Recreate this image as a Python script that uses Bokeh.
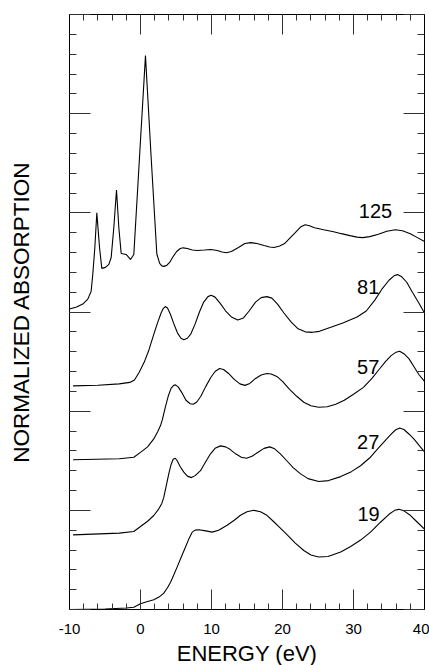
from bokeh.plotting import figure
from bokeh.models import FixedTicker, LinearAxis, Range1d, CustomJSTickFormatter, CustomLabelingPolicy
from bokeh.core.properties import value
from bokeh.embed import file_html
from bokeh.resources import INLINE

# ---- data (energy in eV, normalized absorption with vertical offsets) ----
e125 = [-10, -9, -8.13, -7.42, -6.95, -6.72, -6.43, -6.15, -5.77, -5.45, -4.93, -4.46, -4.13, -3.76, -3.38,
        -3.05, -2.72, -2.02, -1.41, -0.94, -0.14, 0.7, 1.5, 2.3, 2.7, 3.0, 3.3, 3.7, 4.1, 4.6, 5.1, 5.6,
        6.0, 6.6, 7.3, 8.0, 9.0, 9.9, 10.8, 11.5, 12.1, 12.8, 13.8, 14.7, 15.5, 16.4, 17.4, 18.2, 18.8,
        19.6, 20.3, 21.1, 21.8, 22.6, 23.2, 23.8, 24.5, 25.8, 27.2, 28.3, 29.5, 30.5, 31.3, 32.3, 33.5,
        34.7, 35.9, 36.9, 38.0, 39.0, 40]
y125 = [3.03, 3.05, 3.08, 3.13, 3.21, 3.38, 3.65, 4.0, 3.65, 3.44, 3.45, 3.48, 3.55, 3.85, 4.23,
        3.85, 3.59, 3.58, 3.53, 3.58, 4.56, 5.585, 4.56, 3.585, 3.49, 3.465, 3.46, 3.47, 3.50, 3.56, 3.61, 3.64,
        3.647, 3.64, 3.625, 3.62, 3.625, 3.63, 3.62, 3.605, 3.598, 3.61, 3.65, 3.69, 3.70, 3.69, 3.67, 3.655, 3.65,
        3.665, 3.69, 3.75, 3.80, 3.86, 3.88, 3.87, 3.85, 3.83, 3.81, 3.79, 3.77, 3.755, 3.75, 3.76, 3.785,
        3.815, 3.83, 3.82, 3.79, 3.75, 3.71]

e81 = [-9.5, -6, -3, -1.5, -0.85, -0.2, 0.5, 1.2, 1.8, 2.4, 2.9, 3.2, 3.5, 3.8, 4.2, 4.7, 5.2, 5.7,
       6.1, 6.6, 7.1, 7.7, 8.3, 8.9, 9.5, 9.95, 10.5, 11.2, 12.0, 12.8, 13.7, 14.5, 15.3, 16.2, 17.0,
       17.8, 18.5, 19.3, 20.2, 21.2, 22.2, 23.2, 24.2, 25.2, 26.8, 28.5, 30.5, 31.8, 33.0, 34.0, 35.0,
       35.7, 36.2, 36.8, 37.5, 38.3, 39.2, 40]
y81 = [2.255, 2.262, 2.275, 2.29, 2.315, 2.39, 2.49, 2.62, 2.76, 2.89, 2.99, 3.035, 3.055, 3.04, 2.98,
       2.88, 2.79, 2.735, 2.72, 2.735, 2.78, 2.88, 3.00, 3.10, 3.155, 3.168, 3.15, 3.09, 3.01, 2.95,
       2.92, 2.94, 3.01, 3.10, 3.145, 3.155, 3.14, 3.08, 2.99, 2.90, 2.83, 2.80, 2.795, 2.805, 2.846,
       2.89, 2.95, 3.01, 3.12, 3.23, 3.32, 3.365, 3.377, 3.355, 3.30, 3.20, 3.09, 2.99]

e57 = [-9.5, -3, -0.94, 0, 1.0, 1.87, 2.4, 2.82, 3.1, 3.5, 3.9, 4.3, 4.7, 4.93, 5.3, 5.8, 6.4, 7.0,
       7.42, 7.9, 8.5, 9.2, 9.9, 10.5, 11.13, 11.7, 12.4, 13.2, 14.0, 14.7, 15.4, 16.2, 17.0, 17.8,
       18.4, 19.2, 20.0, 21.0, 22.0, 23.0, 24.0, 25.1, 26.3, 27.5, 28.7, 30.0, 31.4, 32.6, 33.6, 34.5,
       35.3, 36.0, 36.5, 37.1, 37.8, 38.5, 39.2, 40]
y57 = [1.51, 1.52, 1.535, 1.585, 1.64, 1.72, 1.79, 1.855, 1.92, 2.04, 2.15, 2.23, 2.262, 2.265, 2.245,
       2.19, 2.11, 2.075, 2.07, 2.09, 2.15, 2.25, 2.34, 2.40, 2.43, 2.42, 2.38, 2.32, 2.275, 2.26, 2.28,
       2.33, 2.365, 2.38, 2.375, 2.35, 2.30, 2.22, 2.15, 2.09, 2.055, 2.04, 2.045, 2.07, 2.11, 2.17,
       2.24, 2.33, 2.42, 2.50, 2.56, 2.595, 2.605, 2.58, 2.53, 2.45, 2.37, 2.30]

e27 = [-9.5, -3, -0.94, 0, 1.0, 1.87, 2.58, 3.0, 3.28, 3.6, 3.99, 4.3, 4.6, 4.9, 5.17, 5.6, 6.1, 6.6,
       7.18, 7.7, 8.45, 9.1, 9.86, 10.5, 11.27, 12.0, 12.6, 13.4, 14.2, 14.93, 15.7, 16.66, 17.4, 18.2,
       18.9, 19.7, 20.6, 21.5, 22.5, 23.6, 25.1, 26.5, 28.2, 29.7, 31.0, 32.3, 33.4, 34.3, 35.2, 35.9,
       36.5, 37.1, 37.8, 38.5, 39.3, 40]
y27 = [0.753, 0.77, 0.786, 0.837, 0.89, 0.948, 1.015, 1.07, 1.13, 1.24, 1.37, 1.46, 1.515, 1.525, 1.50,
       1.44, 1.385, 1.345, 1.33, 1.35, 1.40, 1.48, 1.57, 1.625, 1.65, 1.64, 1.615, 1.57, 1.535, 1.525,
       1.545, 1.59, 1.625, 1.64, 1.62, 1.57, 1.50, 1.43, 1.37, 1.32, 1.29, 1.30, 1.34, 1.39, 1.45, 1.53,
       1.62, 1.69, 1.76, 1.81, 1.83, 1.815, 1.77, 1.72, 1.65, 1.59]

e19 = [-10, -5, -2, -0.94, 0, 1.0, 1.87, 2.6, 3.28, 3.8, 4.23, 4.7, 5.17, 5.8, 6.34, 6.8, 7.28, 7.7,
       8.21, 9.0, 10.1, 11.0, 12.2, 13.2, 14.08, 15.0, 15.96, 16.9, 17.8, 18.7, 19.7, 20.7, 21.8, 23.0,
       24.0, 25.1, 26.4, 28.2, 29.6, 31.0, 32.4, 33.8, 35.0, 35.8, 36.4, 37.1, 38.0, 39.0, 40]
y19 = [0.0, 0.005, 0.015, 0.023, 0.057, 0.08, 0.098, 0.125, 0.165, 0.22, 0.275, 0.35, 0.43, 0.54, 0.63,
       0.71, 0.78, 0.80, 0.805, 0.795, 0.78, 0.80, 0.85, 0.90, 0.95, 0.985, 1.0, 0.985, 0.95, 0.89, 0.82,
       0.75, 0.67, 0.595, 0.55, 0.53, 0.535, 0.58, 0.635, 0.70, 0.78, 0.88, 0.96, 1.0, 1.01, 0.995, 0.95,
       0.88, 0.81]

series_labels = ["125", "81", "57", "27", "19"]
label_x = [30.75, 30.5, 30.5, 30.5, 30.55]
label_y = [4.02, 3.25, 2.45, 1.69, 0.965]

x_major = [-10, 0, 10, 20, 30, 40]
x_minor = list(range(-10, 41, 2))
y_major = [0, 1, 2, 3, 4, 5, 6]
y_minor = [round(0.2 * i, 2) for i in range(31)]

FONT = "Liberation Sans"

p = figure(width=429, height=665, output_backend="svg", toolbar_location=None,
           x_range=Range1d(-10, 40), y_range=Range1d(0, 6),
           x_axis_location=None, y_axis_location=None,
           min_border_left=69, min_border_right=5, min_border_top=14, min_border_bottom=56)
p.frame_width = 355
p.frame_height = 595
p.xgrid.visible = False
p.ygrid.visible = False
p.outline_line_color = "black"
p.outline_line_width = 1
p.background_fill_color = "white"
p.border_fill_color = "white"

hide_labels = CustomLabelingPolicy(code="for (const i of indices) { indices.unset(i) } return indices")


def style_axis(ax, ticks, minor, major_len, minor_len, show_labels):
    ax.ticker = FixedTicker(ticks=ticks, minor_ticks=minor)
    ax.major_tick_in = major_len
    ax.major_tick_out = 0
    ax.minor_tick_in = minor_len
    ax.minor_tick_out = 0
    ax.axis_line_color = "black"
    ax.major_tick_line_color = "#333333"
    ax.minor_tick_line_color = "#333333"
    if not show_labels:
        ax.major_label_policy = hide_labels
        ax.major_label_text_font_size = "1px"
        ax.major_label_standoff = 0


bottom = LinearAxis()
style_axis(bottom, x_major, x_minor, 20, 6, True)
bottom.formatter = CustomJSTickFormatter(code="return tick.toFixed(0)")
bottom.major_label_text_font = FONT
bottom.major_label_text_font_size = "15px"
bottom.major_label_text_color = "black"
bottom.major_label_standoff = 14
bottom.axis_label = "ENERGY (eV)"
bottom.axis_label_text_font = FONT
bottom.axis_label_text_font_size = "22px"
bottom.axis_label_text_font_style = "normal"
bottom.axis_label_text_color = "black"
bottom.axis_label_standoff = 4
p.add_layout(bottom, "below")

top = LinearAxis()
style_axis(top, x_major, x_minor, 20, 6, False)
p.add_layout(top, "above")

left = LinearAxis()
style_axis(left, y_major, y_minor, 21, 7, False)
left.axis_label = "NORMALIZED ABSORPTION"
left.axis_label_text_font = FONT
left.axis_label_text_font_size = "22.5px"
left.axis_label_text_font_style = "normal"
left.axis_label_text_color = "black"
left.axis_label_standoff = 32
p.add_layout(left, "left")

right = LinearAxis()
style_axis(right, y_major, y_minor, 21, 7, False)
p.add_layout(right, "right")

for ex, ey in [(e125, y125), (e81, y81), (e57, y57), (e27, y27), (e19, y19)]:
    p.line(ex, ey, line_color="black", line_width=1.1)

p.text(x=label_x, y=label_y, text=series_labels, text_font=value(FONT),
       text_font_size="20px", text_color="black", text_align="left",
       text_baseline="alphabetic")

open("out.html", "w").write(file_html(p, INLINE))
